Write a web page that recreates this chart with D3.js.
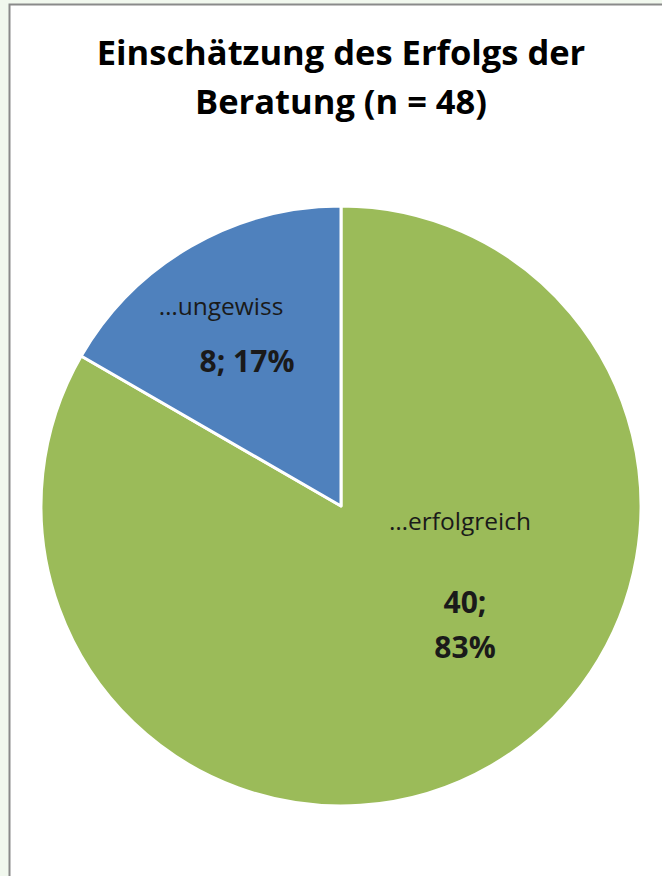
<!DOCTYPE html>
<html>
<head>
<meta charset="utf-8">
<script src="https://cdn.jsdelivr.net/npm/d3@7"></script>
<style>
  html, body { margin: 0; padding: 0; background: #f1f8ee; }
  svg { display: block; }
</style>
</head>
<body>
<svg id="chart"></svg>
<script>
const categories = ["…erfolgreich", "…ungewiss"];
const counts = [40, 8];
const percents = ["83%", "17%"];
const colors = ["#9bbb59", "#4f81bd"];

const width = 662, height = 876;
const svg = d3.select("#chart").attr("width", width).attr("height", height);

// chart area with gray frame (cut off at right and bottom)
svg.append("rect")
  .attr("x", 9.5).attr("y", 4.5)
  .attr("width", width + 20).attr("height", height + 20)
  .attr("fill", "#ffffff")
  .attr("stroke", "#8a8a8a")
  .attr("stroke-width", 2);

const title = svg.append("text")
  .attr("text-anchor", "middle")
  .style("font-family", "'Open Sans', sans-serif")
  .style("font-weight", "bold")
  .style("font-size", "34.5px")
  .attr("fill", "#000");
title.append("tspan").attr("x", 341).attr("y", 65).text("Einschätzung des Erfolgs der");
title.append("tspan").attr("x", 341).attr("y", 114).text("Beratung (n = 48)");

const cx = 341, cy = 506, r = 300;
const data = categories.map((c, i) => ({ category: c, count: counts[i], pct: percents[i], color: colors[i] }));

const pie = d3.pie().sort(null).value(d => d.count);
const arc = d3.arc().innerRadius(0).outerRadius(r);
const arcs = pie(data);

const g = svg.append("g").attr("transform", `translate(${cx},${cy})`);

g.selectAll("path")
  .data(arcs)
  .enter().append("path")
  .attr("d", arc)
  .attr("fill", d => d.data.color)
  .attr("stroke", "#ffffff")
  .attr("stroke-width", 3)
  .attr("stroke-linejoin", "round");

// data labels, placed relative to each slice centroid
const offsets = [
  { nameDx: 44, nameDy: -106, valDx: 49, valDy: -23, lines: d => [d.count + ";", d.pct] },
  { nameDx: -45, nameDy: -61, valDx: -19, valDy: -4, lines: d => [d.count + "; " + d.pct] }
];

arcs.forEach((d, i) => {
  const [x, y] = arc.centroid(d);
  const o = offsets[i];
  g.append("text")
    .attr("x", x + o.nameDx).attr("y", y + o.nameDy)
    .attr("text-anchor", "middle")
    .style("font-family", "'Open Sans', sans-serif")
    .style("font-size", "24.5px")
    .attr("fill", "#1a1a1a")
    .text(d.data.category);
  const t = g.append("text")
    .attr("text-anchor", "middle")
    .style("font-family", "'Open Sans', sans-serif")
    .style("font-weight", "bold")
    .style("font-size", "30px")
    .attr("fill", "#1a1a1a");
  o.lines(d.data).forEach((line, j) => {
    t.append("tspan")
      .attr("x", x + o.valDx)
      .attr("y", y + o.valDy + j * 45)
      .text(line);
  });
});
</script>
</body>
</html>
